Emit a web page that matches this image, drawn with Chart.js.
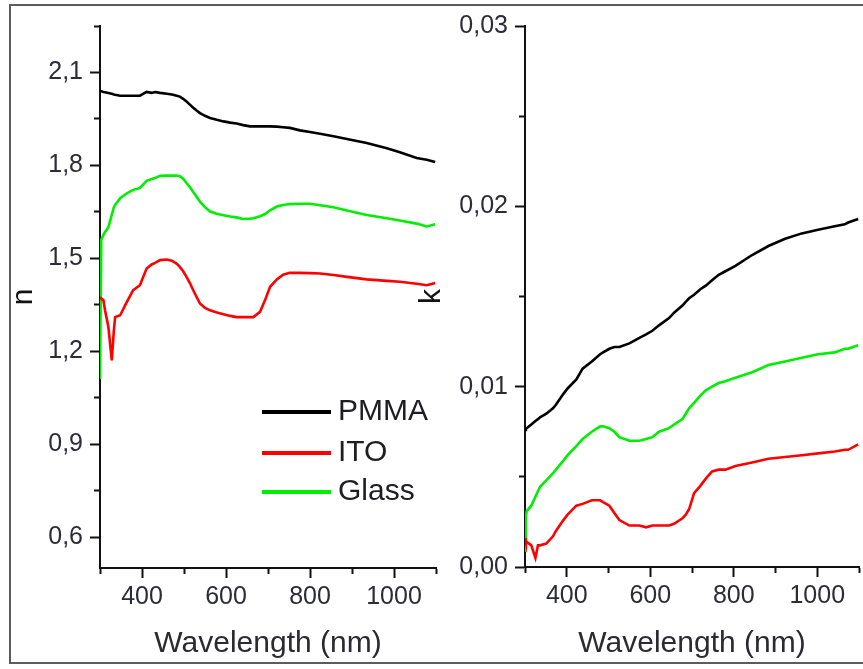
<!DOCTYPE html>
<html>
<head>
<meta charset="utf-8">
<script src="https://cdn.jsdelivr.net/npm/chart.js@4.4.1/dist/chart.umd.min.js"></script>
<style>
  html, body { margin: 0; padding: 0; background: #fff; }
  body { width: 863px; height: 669px; position: relative; overflow: hidden; }
  #frame {
    position: absolute; left: 9px; top: 4px; width: 900px; height: 660px;
    border-left: 2px solid #5c5c5c; border-top: 2px solid #5c5c5c; border-bottom: 2px solid #5c5c5c;
    box-sizing: border-box;
  }
  canvas { position: absolute; top: 0; }
  #nChart { left: 0; }
  #kChart { left: 400px; }
</style>
</head>
<body>
<div id="frame"></div>
<canvas id="nChart" width="440" height="669"></canvas>
<canvas id="kChart" width="463" height="669"></canvas>
<script>
// ---- refractive index n (left panel) ----
const wlN = [300, 303, 308, 312, 320, 328, 333, 336, 348, 364, 379, 395, 411, 423, 431, 443, 459, 471, 483, 490,
  498, 506, 514, 522, 530, 538, 550, 562, 578, 594, 610, 625, 641, 657, 665, 681, 693, 705, 721, 736,
  752, 776, 800, 824, 856, 888, 935, 983, 1014, 1054, 1078, 1098];
const pmmaN = [2.040, 2.039, 2.037, 2.036, 2.034, 2.031, 2.029, 2.028, 2.025, 2.025, 2.025, 2.025, 2.037, 2.034, 2.037, 2.034, 2.031, 2.029, 2.025, 2.022,
  2.015, 2.006, 1.996, 1.986, 1.977, 1.969, 1.960, 1.953, 1.947, 1.942, 1.938, 1.935, 1.930, 1.926, 1.926, 1.926, 1.926, 1.926, 1.925, 1.923,
  1.921, 1.913, 1.908, 1.902, 1.894, 1.885, 1.872, 1.855, 1.842, 1.824, 1.818, 1.811];
const itoN = [1.375, 1.370, 1.365, 1.332, 1.278, 1.170, 1.267, 1.310, 1.316, 1.359, 1.397, 1.413, 1.467, 1.480, 1.485, 1.494, 1.496, 1.492, 1.482, 1.472,
  1.458, 1.440, 1.420, 1.397, 1.375, 1.354, 1.340, 1.332, 1.325, 1.319, 1.314, 1.310, 1.310, 1.310, 1.310, 1.327, 1.365, 1.408, 1.432, 1.447,
  1.453, 1.453, 1.452, 1.451, 1.446, 1.440, 1.432, 1.427, 1.424, 1.418, 1.413, 1.420];
const glassN = [1.110, 1.560, 1.575, 1.585, 1.600, 1.640, 1.665, 1.672, 1.694, 1.710, 1.721, 1.727, 1.750, 1.756, 1.759, 1.766, 1.767, 1.767, 1.767, 1.765,
  1.757, 1.743, 1.730, 1.714, 1.699, 1.683, 1.665, 1.651, 1.644, 1.639, 1.635, 1.632, 1.627, 1.628, 1.629, 1.636, 1.643, 1.655, 1.667, 1.672,
  1.675, 1.676, 1.676, 1.671, 1.665, 1.654, 1.640, 1.629, 1.622, 1.612, 1.603, 1.610];

// ---- extinction coefficient k (right panel) ----
const wlK = [300, 302, 304, 315, 325, 331, 336, 351, 367, 374, 392, 402, 423, 438, 460, 480, 487, 502, 514, 526,
  550, 574, 590, 605, 621, 645, 657, 677, 685, 693, 705, 720, 733, 748, 764, 780, 804, 844, 883, 923,
  963, 1002, 1042, 1066, 1074, 1098];
const pmmaK = [0.0076, 0.00765, 0.0077, 0.0079, 0.0081, 0.0082, 0.0083, 0.0085, 0.0088, 0.0090, 0.0096, 0.0099, 0.0104, 0.0110, 0.0114, 0.0118, 0.0119, 0.0121, 0.0122, 0.0122,
  0.0124, 0.0127, 0.0129, 0.0131, 0.0134, 0.0138, 0.0141, 0.0145, 0.0147, 0.0149, 0.0151, 0.0154, 0.0156, 0.0159, 0.0162, 0.0164, 0.0167, 0.0173, 0.0178, 0.0182,
  0.0185, 0.0187, 0.0189, 0.0190, 0.0191, 0.0193];
const itoK = [0.0016, 0.0014, 0.0014, 0.0012, 0.0005, 0.0012, 0.0012, 0.0013, 0.0017, 0.0020, 0.0026, 0.0029, 0.0034, 0.0035, 0.0037, 0.0037, 0.0036, 0.0034, 0.0030, 0.0026,
  0.0023, 0.0023, 0.0022, 0.0023, 0.0023, 0.0023, 0.0024, 0.0027, 0.0029, 0.0032, 0.0041, 0.0045, 0.0049, 0.0053, 0.0054, 0.0054, 0.0056, 0.0058, 0.0060, 0.0061,
  0.0062, 0.0063, 0.0064, 0.0065, 0.0065, 0.0068];
const glassK = [0.0009, 0.0028, 0.0031, 0.0034, 0.0039, 0.0042, 0.00445, 0.0048, 0.0052, 0.0054, 0.0059, 0.0062, 0.0067, 0.0071, 0.0075, 0.0078, 0.0078, 0.0077, 0.0075, 0.0072,
  0.0070, 0.0070, 0.0071, 0.0072, 0.0075, 0.0077, 0.0079, 0.0082, 0.0085, 0.0088, 0.0091, 0.0095, 0.0098, 0.0100, 0.0102, 0.0103, 0.0105, 0.0108, 0.0112, 0.0114,
  0.0116, 0.0118, 0.0119, 0.0121, 0.0121, 0.0123];

// ---- axis ticks (major ticks carry a label, minor ticks an empty one) ----
const wlTicks = [300, 400, 500, 600, 700, 800, 900, 1000, 1100];
const wlTickLabels = ['', '400', '', '600', '', '800', '', '1000', ''];
const nTicks = [0.6, 0.75, 0.9, 1.05, 1.2, 1.35, 1.5, 1.65, 1.8, 1.95, 2.1, 2.25];
const nTickLabels = ['0,6', '', '0,9', '', '1,2', '', '1,5', '', '1,8', '', '2,1', ''];
const kTicks = [0, 0.005, 0.01, 0.015, 0.02, 0.025, 0.03];
const kTickLabels = ['0,00', '', '0,01', '', '0,02', '', '0,03'];

const seriesNames = ['PMMA', 'ITO', 'Glass'];
const seriesColors = ['#000000', '#ff0000', '#00ee00'];

const FONT = "'Liberation Sans', Arial, sans-serif";
const AXIS = '#111111';
const LABEL = '#2c2c36';

function pairs(xs, ys) { return xs.map((x, i) => ({ x: x, y: ys[i] })); }

function makeDatasets(xs, arrays) {
  return arrays.map((ys, i) => ({
    label: seriesNames[i],
    data: pairs(xs, ys),
    borderColor: seriesColors[i],
    backgroundColor: seriesColors[i],
    borderWidth: 2.6,
    pointRadius: 0,
    tension: 0,
    fill: false
  }));
}

// tick marks: minor ticks are shortened with a dash pattern
function xGrid() {
  return {
    drawOnChartArea: false, drawTicks: true, tickLength: 10, tickWidth: 2, tickColor: AXIS,
    tickBorderDash: ctx => (ctx.index % 2 === 0 ? [5, 30] : []),
    tickBorderDashOffset: 0
  };
}
function yGrid() {
  return {
    drawOnChartArea: false, drawTicks: true, tickLength: 10, tickWidth: 2, tickColor: AXIS,
    tickBorderDash: ctx => (ctx.index % 2 === 1 ? [5, 4] : []),
    tickBorderDashOffset: ctx => (ctx.index % 2 === 1 ? 5 : 0)
  };
}

function xScale(height) {
  return {
    type: 'linear', position: 'bottom', min: 300, max: 1100,
    afterFit: s => { s.height = height; },
    afterBuildTicks: s => { s.ticks = wlTicks.map(v => ({ value: v })); },
    ticks: {
      autoSkip: false, maxRotation: 0, padding: 4, color: LABEL,
      font: { family: FONT, size: 25, lineHeight: 1.2 },
      callback: (v, i) => wlTickLabels[i]
    },
    grid: xGrid(),
    border: { display: true, color: AXIS, width: 2 },
    title: {
      display: true, text: 'Wavelength (nm)', color: '#2a2a30',
      font: { family: FONT, size: 30, lineHeight: 1.2 },
      padding: { top: 0, bottom: 7 }
    }
  };
}

function yScale(min, max, width, ticks, labels, title, titlePad) {
  return {
    type: 'linear', position: 'left', min: min, max: max,
    afterFit: s => { s.width = width; },
    afterBuildTicks: s => { s.ticks = ticks.map(v => ({ value: v })); },
    ticks: {
      autoSkip: false, padding: 7, color: LABEL,
      font: { family: FONT, size: 25, lineHeight: 1.2 },
      callback: (v, i) => labels[i]
    },
    grid: yGrid(),
    border: { display: true, color: AXIS, width: 2 },
    title: {
      display: true, text: title, color: '#111111',
      font: { family: FONT, size: 30, lineHeight: 1.2 },
      padding: { top: titlePad, bottom: 0 }
    }
  };
}

// legend drawn inside the n panel
const seriesLegend = {
  id: 'seriesLegend',
  afterDraw(chart) {
    const ctx = chart.ctx;
    const rows = [412, 453, 492];
    ctx.save();
    chart.data.datasets.forEach((ds, i) => {
      const y = rows[i];
      ctx.strokeStyle = ds.borderColor;
      ctx.lineWidth = 4;
      ctx.beginPath();
      ctx.moveTo(262, y);
      ctx.lineTo(331, y);
      ctx.stroke();
      ctx.fillStyle = '#1e1e22';
      ctx.font = '30px ' + FONT;
      ctx.textAlign = 'left';
      ctx.textBaseline = 'middle';
      ctx.fillText(ds.label, 338, y);
    });
    ctx.restore();
  }
};

const common = {
  responsive: false,
  animation: false,
  devicePixelRatio: 1,
  plugins: { legend: { display: false }, tooltip: { enabled: false } }
};

new Chart(document.getElementById('nChart'), {
  type: 'line',
  data: { datasets: makeDatasets(wlN, [pmmaN, itoN, glassN]) },
  options: Object.assign({}, common, {
    layout: { padding: { top: 26, right: 3, bottom: 0, left: 0 } },
    scales: {
      x: xScale(101),
      y: yScale(0.5, 2.25, 100, nTicks, nTickLabels, 'n', 6)
    }
  }),
  plugins: [seriesLegend]
});

new Chart(document.getElementById('kChart'), {
  type: 'line',
  data: { datasets: makeDatasets(wlK, [pmmaK, itoK, glassK]) },
  options: Object.assign({}, common, {
    layout: { padding: { top: 26, right: 2, bottom: 0, left: 0 } },
    scales: {
      x: xScale(102),
      y: yScale(0, 0.03, 125, kTicks, kTickLabels, 'k', 14)
    }
  })
});
</script>
</body>
</html>
